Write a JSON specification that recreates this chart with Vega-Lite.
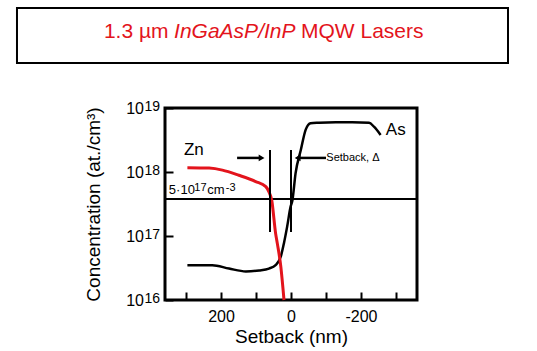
{
  "$schema": "https://vega.github.io/schema/vega-lite/v6.json",
  "width": 252,
  "height": 192,
  "autosize": {"type": "none"},
  "padding": {"left": 165, "top": 108, "right": 120, "bottom": 51},
  "data": {"values": [{}]},
  "config": {
    "view": {"stroke": "black", "strokeWidth": 3},
    "font": "Liberation Sans",
    "text": {"font": "Liberation Sans", "color": "black"},
    "axis": {"labelFont": "Liberation Sans", "titleFont": "Liberation Sans", "labelColor": "black", "titleColor": "black", "titleFontWeight": "normal", "grid": false}
  },
  "datasets": {
    "curves": [
      {"species": "Zn", "nm": 296, "conc": 1.17e18},
      {"species": "Zn", "nm": 234, "conc": 1.15e18},
      {"species": "Zn", "nm": 196, "conc": 1.07e18},
      {"species": "Zn", "nm": 149, "conc": 8.9e17},
      {"species": "Zn", "nm": 101, "conc": 7.1e17},
      {"species": "Zn", "nm": 72, "conc": 5.9e17},
      {"species": "Zn", "nm": 63, "conc": 4.9e17},
      {"species": "Zn", "nm": 55, "conc": 3.6e17},
      {"species": "Zn", "nm": 44, "conc": 1.1e17},
      {"species": "Zn", "nm": 39, "conc": 7.6e16},
      {"species": "Zn", "nm": 29, "conc": 3.3e16},
      {"species": "Zn", "nm": 20, "conc": 1.0e16},
      {"species": "As", "nm": 296, "conc": 3.5e16},
      {"species": "As", "nm": 225, "conc": 3.5e16},
      {"species": "As", "nm": 177, "conc": 3.1e16},
      {"species": "As", "nm": 129, "conc": 2.8e16},
      {"species": "As", "nm": 91, "conc": 2.9e16},
      {"species": "As", "nm": 63, "conc": 3.1e16},
      {"species": "As", "nm": 44, "conc": 3.5e16},
      {"species": "As", "nm": 29, "conc": 4.8e16},
      {"species": "As", "nm": 20, "conc": 7.8e16},
      {"species": "As", "nm": 11, "conc": 1.4e17},
      {"species": "As", "nm": 1, "conc": 2.9e17},
      {"species": "As", "nm": -4, "conc": 3.6e17},
      {"species": "As", "nm": -13, "conc": 9.5e17},
      {"species": "As", "nm": -28, "conc": 2.2e18},
      {"species": "As", "nm": -42, "conc": 4.6e18},
      {"species": "As", "nm": -56, "conc": 5.8e18},
      {"species": "As", "nm": -80, "conc": 5.9e18},
      {"species": "As", "nm": -128, "conc": 6.0e18},
      {"species": "As", "nm": -175, "conc": 6.0e18},
      {"species": "As", "nm": -223, "conc": 5.9e18},
      {"species": "As", "nm": -237, "conc": 5.1e18},
      {"species": "As", "nm": -256, "conc": 3.8e18}
    ],
    "markers": [
      {"nm": 60, "lo": 1.15e17, "hi": 2.2e18},
      {"nm": 0, "lo": 1.15e17, "hi": 2.2e18}
    ],
    "shafts": [
      {"from": 154, "to": 86, "conc": 1.66e18},
      {"from": -17, "to": -100, "conc": 1.66e18}
    ],
    "heads": [
      {"nm": 84, "conc": 1.66e18, "dir": "right"},
      {"nm": -19, "conc": 1.66e18, "dir": "left"}
    ],
    "names": [
      {"nm": 306, "conc": 1.86e18, "label": "Zn"},
      {"nm": -271, "conc": 3.8e18, "label": "As"}
    ],
    "exps": [
      {"conc": 1e16, "e": "16"},
      {"conc": 1e17, "e": "17"},
      {"conc": 1e18, "e": "18"},
      {"conc": 1e19, "e": "19"}
    ]
  },
  "layer": [
    {"data": {"name": "curves"},
     "transform": [{"filter": "datum.species === 'As'"}],
     "mark": {"type": "line", "color": "black", "strokeWidth": 2.5, "interpolate": "monotone"},
     "encoding": {
       "x": {"field": "nm", "type": "quantitative",
             "scale": {"domain": [-360, 360], "reverse": true, "nice": false, "zero": false},
             "axis": {"title": "Setback (nm)", "values": [300, 200, 100, 0, -100, -200, -300],
                      "labelExpr": "datum.value == 200 ? '200' : datum.value == 0 ? '0' : datum.value == -200 ? '-200' : ''",
                      "domain": false, "tickSize": -8, "tickWidth": 2, "tickColor": "black",
                      "labelFontSize": 16, "labelPadding": 16, "labelFlush": false,
                      "titleFontSize": 19, "titlePadding": 3}},
       "y": {"field": "conc", "type": "quantitative",
             "scale": {"type": "log", "domain": [1e16, 1e19], "nice": false},
             "axis": {"title": "Concentration (at./cm³)", "values": [1e16, 1e17, 1e18, 1e19],
                      "labelExpr": "'10'", "domain": false, "tickSize": -8, "tickWidth": 2, "tickColor": "black",
                      "labelFontSize": 16, "labelPadding": 29.5, "labelFlush": false,
                      "titleFontSize": 19, "titlePadding": 22}},
       "order": {"field": "nm", "sort": "descending"}
     }},
    {"mark": {"type": "rule", "strokeWidth": 2, "color": "black"},
     "encoding": {"y": {"datum": 3.8e17, "type": "quantitative"}}},
    {"data": {"name": "curves"},
     "transform": [{"filter": "datum.species === 'Zn'"}],
     "mark": {"type": "line", "color": "#e3141c", "strokeWidth": 3, "interpolate": "monotone"},
     "encoding": {
       "x": {"field": "nm", "type": "quantitative"},
       "y": {"field": "conc", "type": "quantitative"},
       "order": {"field": "nm", "sort": "descending"}
     }},
    {"data": {"name": "markers"},
     "mark": {"type": "rule", "strokeWidth": 2, "color": "black"},
     "encoding": {
       "x": {"field": "nm", "type": "quantitative"},
       "y": {"field": "lo", "type": "quantitative"},
       "y2": {"field": "hi"}
     }},
    {"data": {"name": "shafts"},
     "mark": {"type": "rule", "strokeWidth": 2.5, "color": "black"},
     "encoding": {
       "x": {"field": "from", "type": "quantitative"},
       "x2": {"field": "to"},
       "y": {"field": "conc", "type": "quantitative"}
     }},
    {"data": {"name": "heads"},
     "mark": {"type": "point", "filled": true, "color": "black", "opacity": 1, "size": 45},
     "encoding": {
       "x": {"field": "nm", "type": "quantitative"},
       "y": {"field": "conc", "type": "quantitative"},
       "shape": {"field": "dir", "type": "nominal", "scale": {"domain": ["right", "left"], "range": ["triangle-right", "triangle-left"]}, "legend": null}
     }},
    {"data": {"name": "names"},
     "mark": {"type": "text", "align": "left", "baseline": "alphabetic", "fontSize": 17},
     "encoding": {
       "x": {"field": "nm", "type": "quantitative"},
       "y": {"field": "conc", "type": "quantitative"},
       "text": {"field": "label"}
     }},
    {"mark": {"type": "text", "text": "Setback, Δ", "align": "left", "baseline": "middle", "fontSize": 11},
     "encoding": {"x": {"datum": -101, "type": "quantitative"}, "y": {"datum": 1.66e18, "type": "quantitative"}}},
    {"data": {"name": "exps"},
     "mark": {"type": "text", "align": "right", "baseline": "alphabetic", "fontSize": 14, "dx": -5, "dy": 3},
     "encoding": {
       "x": {"datum": 360, "type": "quantitative"},
       "y": {"field": "conc", "type": "quantitative"},
       "text": {"field": "e"}
     }},
    {"mark": {"type": "text", "text": "5·10", "align": "left", "baseline": "alphabetic", "fontSize": 13},
     "encoding": {"x": {"datum": 349, "type": "quantitative"}, "y": {"datum": 4.5e17, "type": "quantitative"}}},
    {"mark": {"type": "text", "text": "17", "align": "left", "baseline": "alphabetic", "fontSize": 11, "dx": 25.5, "dy": -3.5},
     "encoding": {"x": {"datum": 349, "type": "quantitative"}, "y": {"datum": 4.5e17, "type": "quantitative"}}},
    {"mark": {"type": "text", "text": "cm", "align": "left", "baseline": "alphabetic", "fontSize": 13, "dx": 38.5},
     "encoding": {"x": {"datum": 349, "type": "quantitative"}, "y": {"datum": 4.5e17, "type": "quantitative"}}},
    {"mark": {"type": "text", "text": "-3", "align": "left", "baseline": "alphabetic", "fontSize": 11, "dx": 57, "dy": -3.5},
     "encoding": {"x": {"datum": 349, "type": "quantitative"}, "y": {"datum": 4.5e17, "type": "quantitative"}}},
    {"mark": {"type": "rect", "filled": false, "stroke": "black", "strokeWidth": 2},
     "encoding": {
       "x": {"datum": 782.9, "type": "quantitative"},
       "x2": {"datum": -620},
       "y": {"datum": 3.65e20, "type": "quantitative"},
       "y2": {"datum": 5.05e19}
     }},
    {"mark": {"type": "text", "text": "1.3 µm", "align": "right", "baseline": "alphabetic", "fontSize": 21, "color": "#e3141c"},
     "encoding": {"x": {"datum": 350, "type": "quantitative"}, "y": {"datum": 1.24e20, "type": "quantitative"}}},
    {"mark": {"type": "text", "text": "InGaAsP/InP", "align": "center", "baseline": "alphabetic", "fontSize": 21, "fontStyle": "italic", "color": "#e3141c"},
     "encoding": {"x": {"datum": 160.6, "type": "quantitative"}, "y": {"datum": 1.24e20, "type": "quantitative"}}},
    {"mark": {"type": "text", "text": "MQW Lasers", "align": "left", "baseline": "alphabetic", "fontSize": 21, "color": "#e3141c"},
     "encoding": {"x": {"datum": -28.6, "type": "quantitative"}, "y": {"datum": 1.24e20, "type": "quantitative"}}}
  ]
}
